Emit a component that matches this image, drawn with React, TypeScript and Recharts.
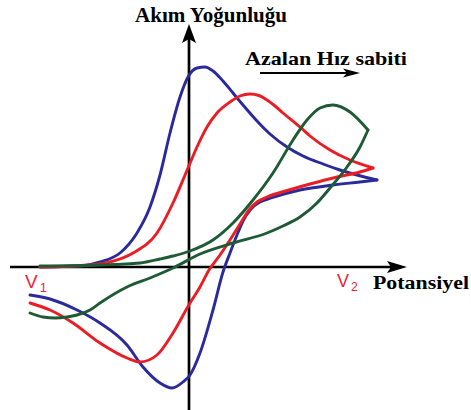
import { LineChart, Line, XAxis, YAxis, ReferenceLine, ReferenceDot } from 'recharts'

// potential (x) and current density (y), arbitrary units, origin at the axis crossing.
// each sweep is listed with x increasing so the monotone curve can run through it.
const blueForwardX = [-149, -109, -89, -69, -52, -39, -29, -19, -9, -1, 8, 16, 24, 34, 44, 54, 68, 81, 98, 114, 134, 151, 168, 188]
const blueForwardY = [0, 1, 5, 14, 34, 60, 92, 134, 170, 190, 199, 200, 196, 186, 174, 162, 146, 133, 120, 111, 103, 97, 92, 87]
const blueReverseX = [-159, -139, -112, -89, -62, -46, -29, -17, -6, 1, 11, 24, 34, 41, 48, 54, 62, 71, 82, 111, 144, 171, 188]
const blueReverseY = [-28, -32, -43, -56, -78, -100, -116, -121, -115, -108, -86, -43, -5, 14, 32, 46, 58, 65, 69, 77, 82, 85, 87]

const redForwardX = [-149, -99, -79, -56, -32, -16, -1, 8, 18, 28, 41, 51, 61, 70, 78, 86, 94, 111, 121, 141, 161, 184]
const redForwardY = [0, 2, 5, 14, 34, 64, 99, 120, 140, 154, 165, 171, 173, 171.5, 167, 161, 154, 140, 131, 117, 107, 99]
const redReverseX = [-159, -139, -116, -89, -62, -49, -32, -16, 1, 11, 20, 31, 41, 51, 60, 68, 78, 100, 121, 148, 171, 184]
const redReverseY = [-36, -43, -56, -76, -91, -95, -88, -66, -36, -20, -3, 12, 27, 43, 57, 65, 70, 77, 83, 90, 95, 99]

const greenForwardX = [-149, -89, -49, -29, -16, 1, 24, 44, 64, 84, 104, 118, 131, 144, 161, 179]
const greenForwardY = [1, 2, 4, 8, 11, 16, 27, 44, 67, 94, 127, 147, 159, 162, 155, 137]
const greenReverseX = [-159, -146, -134, -122, -112, -99, -89, -62, -39, -16, 11, 44, 78, 94, 111, 128, 141, 158, 171, 179]
const greenReverseY = [-46, -50, -51, -50, -48, -43, -36, -20, -11, -1, 13, 24, 34, 41, 50, 64, 79, 100, 120, 137]

const toPoints = (xs: number[], ys: number[]) => xs.map((x, i) => ({ x, y: ys[i] }))

const series = [
  { key: 'blue-f', color: '#2a2a9c', data: toPoints(blueForwardX, blueForwardY) },
  { key: 'blue-r', color: '#2a2a9c', data: toPoints(blueReverseX, blueReverseY) },
  { key: 'red-f', color: '#ec1c24', data: toPoints(redForwardX, redForwardY) },
  { key: 'red-r', color: '#ec1c24', data: toPoints(redReverseX, redReverseY) },
  { key: 'green-f', color: '#1e5a34', data: toPoints(greenForwardX, greenForwardY) },
  { key: 'green-r', color: '#1e5a34', data: toPoints(greenReverseX, greenReverseY) },
]

const serif = '"Liberation Serif", "Times New Roman", serif'
const sans = '"Liberation Sans", Arial, sans-serif'
const vColor = '#e3283c'

type Dir = 'up' | 'right'

const arrowHead = (dir: Dir, len: number, half: number) => (p: any) => {
  const { cx, cy } = p
  if (dir === 'up') {
    const d = `M${cx},${cy} L${cx + half},${cy + len} L${cx},${cy + len - 4} L${cx - half},${cy + len} Z`
    return <path d={d} fill="#000" />
  }
  const d = `M${cx},${cy} L${cx - len},${cy - half} L${cx - len + 4},${cy} L${cx - len},${cy + half} Z`
  return <path d={d} fill="#000" />
}

const boldText = (text: string, size: number, width?: number) => (p: any) => (
  <text
    x={p.cx}
    y={p.cy}
    fontFamily={serif}
    fontWeight="bold"
    fontSize={size}
    fill="#000"
    textLength={width}
    lengthAdjust={width ? 'spacingAndGlyphs' : undefined}
  >
    {text}
  </text>
)

const vLabel = (sub: string, size: number) => (p: any) => (
  <text x={p.cx} y={p.cy} fontFamily={sans} fontSize={size} fill={vColor}>
    V
    <tspan dx={2} dy={4} fontSize={size * 0.68}>{sub}</tspan>
  </text>
)

export default function App() {
  return (
    <div style={{ position: 'absolute', left: 0, top: 0, background: '#fff' }}>
      <LineChart width={471} height={410} margin={{ top: 0, right: 0, bottom: 0, left: 0 }}>
        <XAxis type="number" dataKey="x" domain={[-189, 282]} hide allowDataOverflow />
        <YAxis type="number" domain={[-143, 267]} hide allowDataOverflow />

        {/* axes */}
        <ReferenceLine segment={[{ x: -179, y: 0 }, { x: 212, y: 0 }]} stroke="#000" strokeWidth={2.7} />
        <ReferenceLine segment={[{ x: 0, y: -143 }, { x: 0, y: 236 }]} stroke="#000" strokeWidth={2.7} />
        <ReferenceDot x={218} y={0} r={1} shape={arrowHead('right', 20, 6)} />
        <ReferenceDot x={0} y={243} r={1} shape={arrowHead('up', 19, 7)} />

        {/* direction of decreasing rate constant */}
        <ReferenceLine segment={[{ x: 71, y: 194 }, { x: 162, y: 194 }]} stroke="#000" strokeWidth={2} />
        <ReferenceDot x={171} y={194} r={1} shape={arrowHead('right', 17, 4.5)} />

        {series.map((s) => (
          <Line
            key={s.key}
            data={s.data}
            dataKey="y"
            type="monotoneX"
            stroke={s.color}
            strokeWidth={2.9}
            strokeLinecap="round"
            strokeLinejoin="round"
            dot={false}
            activeDot={false}
            isAnimationActive={false}
          />
        ))}

        <ReferenceDot x={-54} y={245} r={1} shape={boldText('Akım Yoğunluğu', 20, 152)} />
        <ReferenceDot x={56} y={202} r={1} shape={boldText('Azalan Hız sabiti', 19, 162)} />
        <ReferenceDot x={184} y={-22} r={1} shape={boldText('Potansiyel', 18, 96)} />
        <ReferenceDot x={-164} y={-21} r={1} shape={vLabel('1', 19)} />
        <ReferenceDot x={148} y={-20} r={1} shape={vLabel('2', 18)} />
      </LineChart>
    </div>
  )
}
